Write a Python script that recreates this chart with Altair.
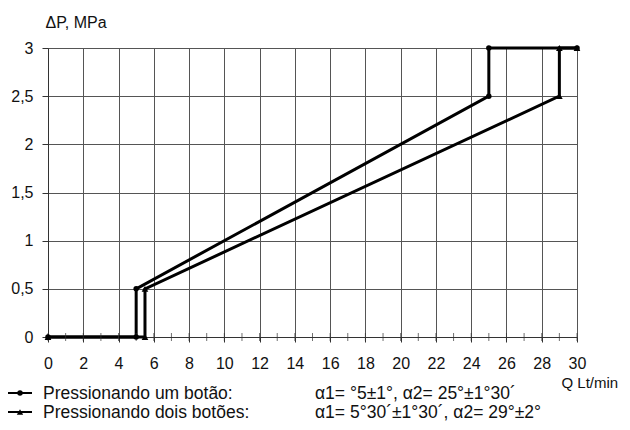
import altair as alt
import pandas as pd

# Data
q_one = [0, 5, 5, 25, 25, 30]
p_one = [0, 0, 0.5, 2.5, 3, 3]
q_two = [0, 5.5, 5.5, 29, 29, 30]
p_two = [0, 0, 0.5, 2.5, 3, 3]
series_names = ["Pressionando um botão:", "Pressionando dois botões:"]
series_notes = ["α1= °5±1°, α2= 25°±1°30´", "α1= 5°30´±1°30´, α2= 29°±2°"]
x_ticks = list(range(0, 31, 2))
x_minor = list(range(0, 31, 1))
y_ticks = [0, 0.5, 1, 1.5, 2, 2.5, 3]

FONT = "Liberation Sans"

df1 = pd.DataFrame({"q": q_one, "p": p_one, "i": range(len(q_one))})
df2 = pd.DataFrame({"q": q_two, "p": p_two, "i": range(len(q_two))})
minor = pd.DataFrame({"q": x_minor, "p": [0] * len(x_minor)})

xscale = alt.Scale(domain=[0, 30], nice=False, zero=False)
yscale = alt.Scale(domain=[0, 3], nice=False, zero=False)

xaxis = alt.Axis(values=x_ticks, grid=True, gridColor="#555", gridWidth=1,
                 domainColor="#333", tickColor="#333", tickSize=5,
                 labelFont=FONT, labelFontSize=16, labelColor="#111",
                 labelPadding=13, labelOverlap=False, labelFlush=False,
                 title="Q  Lt/min", titleFont=FONT,
                 titleFontSize=15, titleFontWeight="normal", titleColor="#111",
                 titleX=513, titleY=45, titleAlign="left", titleBaseline="middle",
                 titleAnchor="start")
yaxis = alt.Axis(values=y_ticks, grid=True, gridColor="#555", gridWidth=1,
                 domainColor="#333", tickColor="#333", tickSize=6,
                 labelFont=FONT, labelFontSize=16, labelColor="#111",
                 labelPadding=9, labelOverlap=False, labelFlush=False,
                 labelExpr="replace(format(datum.value, ''), '.', ',')",
                 title="ΔP, MPa", titleFont=FONT, titleFontSize=16,
                 titleFontWeight="normal", titleColor="#111", titleAngle=0,
                 titleX=-3, titleY=-26, titleAlign="left", titleBaseline="middle",
                 titleAnchor="start")

X = alt.X("q:Q", scale=xscale, axis=xaxis)
Y = alt.Y("p:Q", scale=yscale, axis=yaxis)

base1 = alt.Chart(df1).encode(x=X, y=Y, order="i:Q")
base2 = alt.Chart(df2).encode(x=X, y=Y, order="i:Q")

line1 = base1.mark_line(color="black", strokeWidth=3)
line2 = base2.mark_line(color="black", strokeWidth=3)
pts1 = base1.mark_point(shape="circle", filled=True, color="black", size=30, opacity=1)
pts2 = base2.mark_point(shape="triangle-up", filled=True, color="black", size=45, opacity=1)

minor_ticks = alt.Chart(minor).mark_tick(color="#333", thickness=1, size=8, orient="vertical").encode(
    x=X, y=Y,
)

# Legend drawn below the chart
leg_rows = []
for k, (name, note, shape) in enumerate(zip(series_names, series_notes, ["circle", "triangle-up"])):
    yb = 351 + 19 * k   # text baseline
    ym = yb - 6
    d = pd.DataFrame({"name": [name], "note": [note]})
    c = alt.Chart(d)
    leg_rows.append(c.mark_rule(color="black", strokeWidth=2).encode(
        x=alt.value(-41), x2=alt.value(-16), y=alt.value(ym)))
    leg_rows.append(c.mark_point(shape=shape, filled=True, color="black",
                                 size=30 if shape == "circle" else 40, opacity=1).encode(
        x=alt.value(-28), y=alt.value(ym)))
    leg_rows.append(c.mark_text(align="left", baseline="alphabetic", font=FONT,
                                fontSize=17.5, color="#111").encode(
        x=alt.value(-5), y=alt.value(yb), text="name:N"))
    leg_rows.append(c.mark_text(align="left", baseline="alphabetic", font=FONT,
                                fontSize=17.5, color="#111").encode(
        x=alt.value(267), y=alt.value(yb), text="note:N"))

chart = alt.layer(line1, line2, minor_ticks, pts1, pts2, *leg_rows).properties(
    width=529, height=289,
    autosize=alt.AutoSizeParams(type="none"),
    padding={"left": 40, "top": 40, "right": 45, "bottom": 85},
).configure_view(stroke=None).configure(background="white")

chart.save("out.html", embed_options={"renderer": "svg", "actions": False})
